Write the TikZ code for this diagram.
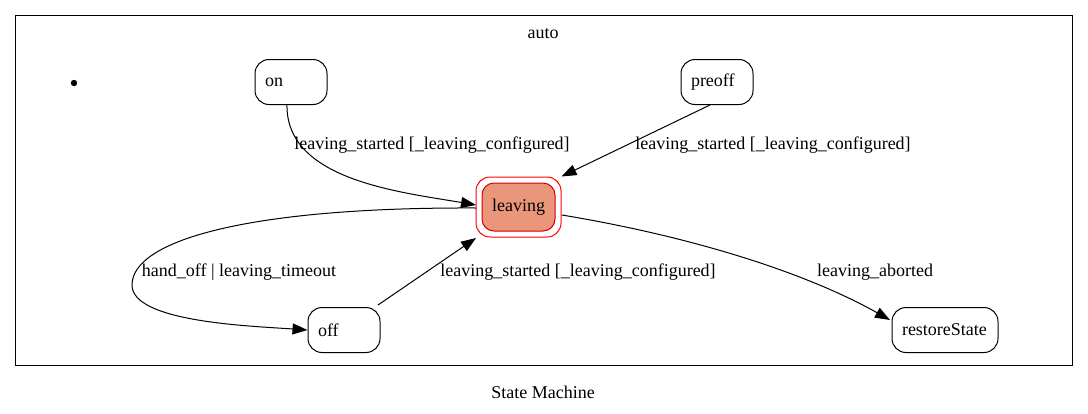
\documentclass[tikz,border=0pt]{standalone}
\usepackage{fontspec}
\setmainfont{Liberation Serif}
\usetikzlibrary{arrows.meta}
\definecolor{salmonfill}{HTML}{E9967A}
\newcommand\lab{\rmfamily\fontsize{18}{21}\selectfont}
\tikzset{
  statebox/.style={draw, rounded corners=14pt, minimum height=45pt, inner xsep=10pt, inner ysep=0pt, font=\lab, line width=1pt, align=left},
  edge/.style={line width=1pt, -{Triangle[length=15pt,width=11pt]}},
  elabel/.style={font=\lab, inner sep=1pt}
}
\begin{document}
\begin{tikzpicture}[x=1pt,y=-1pt]
\useasboundingbox (0,0) rectangle (1088,413);
\draw[line width=1pt] (15,15) rectangle (1072,365);
\node[font=\lab] (title) at (543,34) {auto};
\node[font=\lab] (caption) at (543,392) {State Machine};
\fill (74,83) circle (3.2);
\node[statebox, text width=52pt] (on) at (291,82) {on};
\node[statebox, text width=52pt] (preoff) at (717,82) {preoff};
\node[statebox, text width=52pt] (off) at (344,330) {off};
\node[statebox, text width=86pt] (restore) at (945,330) {restoreState};
\node[draw=red, line width=1pt, rounded corners=14pt, minimum width=85pt, minimum height=60pt] (leavingOuter) at (518.5,207) {};
\node[draw=red!85!black, fill=salmonfill, line width=1pt, rounded corners=12pt, minimum width=73pt, minimum height=48pt, font=\lab, inner sep=0pt] (leaving) at (518.5,207) {leaving};

\coordinate (onS) at (287,104);
\coordinate (lvW) at (476,205);
\draw[edge] (onS) .. controls (285,180) and (400,192) .. (lvW);
\node[elabel] (l1) at (432,145) {leaving\_started [\_leaving\_configured]};

\draw[edge] (preoff.south) ++(-7,0) coordinate (pfS) (pfS) -- (leavingOuter.north east);
\node[elabel] (l2) at (773,145) {leaving\_started [\_leaving\_configured]};

\coordinate (lvW2) at (476,208);
\coordinate (loop) at (132,285);
\draw[line width=1pt] (lvW2) .. controls (250,207) and (132,240) .. (loop);
\draw[edge] (loop) .. controls (132,322) and (250,326) .. (off.west);
\node[elabel] (l3) at (239,272) {hand\_off | leaving\_timeout};

\coordinate (offNE) at (378,305);
\draw[edge] (offNE) -- (476,238);
\node[elabel] (l4) at (578,272) {leaving\_started [\_leaving\_configured]};

\coordinate (lvE) at (562,215);
\draw[edge] (lvE) .. controls (700,238) and (810,275) .. (890,320);
\node[elabel] (l5) at (875,272) {leaving\_aborted};
\end{tikzpicture}
\end{document}
